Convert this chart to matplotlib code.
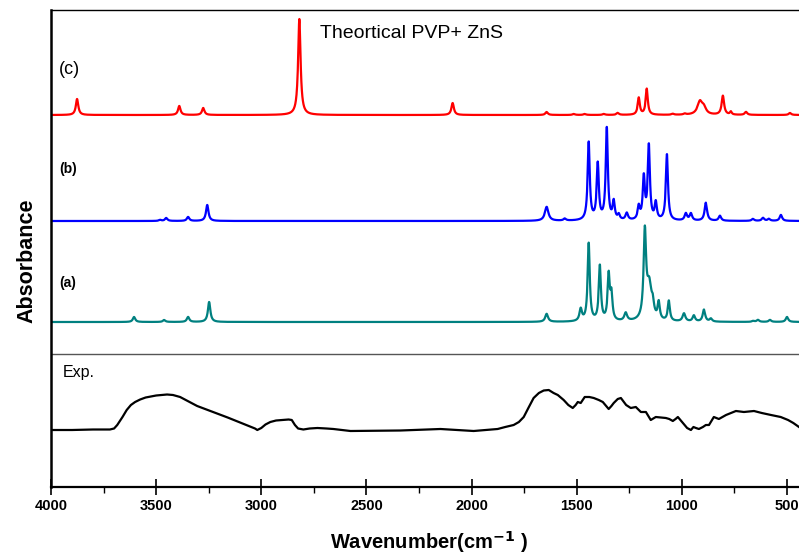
import numpy as np
import matplotlib.pyplot as plt

plt.rcParams['font.family'] = ['Liberation Sans', 'DejaVu Sans']

# theoretical band positions (cm-1) and intensities
c_pos = [3876, 3390, 3276, 2819, 2090, 1643, 1514, 1462, 1371, 1305, 1205, 1167,
         1043, 986, 914, 895, 805, 767, 695, 486]
c_int = [16, 9, 7, 96, 12, 3, 1, 1, 1, 2, 17, 26, 1, 1, 13, 6, 19, 3, 3, 2]
c_wid = [7, 7, 7, 7, 7, 7, 7, 7, 7, 7, 6, 6, 7, 7, 14, 12, 7, 5, 7, 7]

b_pos = [3481, 3452, 3348, 3257, 1643, 1557, 1443, 1400, 1357, 1324, 1300, 1262,
         1205, 1181, 1157, 1124, 1071, 981, 957, 886, 819, 662, 614, 586, 529]
b_int = [1, 3, 4, 16, 14, 2, 78, 56, 92, 18, 5, 7,
         13, 42, 74, 17, 66, 7, 7, 18, 5, 2, 3, 2, 6]
b_wid = [7, 7, 7, 7, 10, 7, 6, 6, 6, 6, 6, 7,
         6, 6, 6, 6, 6, 7, 7, 7, 7, 7, 7, 7, 7]

a_pos = [3605, 3462, 3348, 3248, 1643, 1481, 1443, 1390, 1348, 1335, 1267, 1176,
         1155, 1138, 1110, 1062, 990, 943, 895, 862, 660, 638, 581, 500]
a_int = [5, 2, 5, 20, 8, 12, 78, 55, 45, 25, 8, 85,
         35, 10, 17, 20, 8, 6, 12, 3, 1, 2, 2, 5]
a_wid = [7, 7, 7, 7, 8, 7, 6, 6, 6, 6, 8, 7,
         14, 6, 6, 6, 8, 7, 7, 7, 7, 7, 7, 7]

# experimental spectrum
exp_wn = [4000, 3900, 3800, 3720, 3700, 3685, 3660, 3640, 3620, 3600, 3576, 3550,
          3500, 3448, 3420, 3386, 3350, 3305, 3160, 3030, 3019, 3000, 2980, 2957,
          2930, 2900, 2870, 2855, 2840, 2825, 2800, 2770, 2733, 2690, 2657, 2576,
          2338, 2148, 1990, 1876, 1840, 1800, 1775, 1752, 1730, 1705, 1680, 1657,
          1633, 1610, 1590, 1562, 1540, 1519, 1505, 1495, 1481, 1462, 1440, 1419,
          1395, 1376, 1360, 1348, 1335, 1324, 1305, 1290, 1265, 1243, 1219, 1195,
          1171, 1148, 1124, 1100, 1076, 1060, 1043, 1030, 1019, 995, 975, 957,
          945, 933, 919, 900, 886, 871, 848, 824, 790, 743, 705, 657, 620, 576,
          530, 495, 470, 443]
exp_abs = [0, 0, 0.5, 0.5, 1.5, 5, 13, 20, 25, 28, 30.5, 32.5,
           34.5, 35.5, 35, 33, 29, 24, 12.5, 1.5, 0, 2, 5.5, 8,
           9.5, 10, 10.5, 10, 5, 1.5, 0.5, 1.5, 2, 1.5, 1, -1,
           -0.5, 1, -1, 1, 3, 5, 8, 13, 22, 32, 37, 39.5,
           40, 37, 35, 30, 25, 22, 25, 28, 27, 33, 33, 32,
           30, 28, 24, 21, 24, 27, 31, 32, 25, 22, 23, 18,
           18, 10, 13, 12.5, 12, 11, 9, 11, 13, 7, 2, 0,
           3, 2, 1, 3, 5, 5, 13, 11, 15, 19, 18, 19, 17, 15,
           13, 10, 7, 3]


def broaden(x, pos, inten, wid):
    y = np.zeros_like(x)
    for p, h, g in zip(pos, inten, wid):
        y += h * g**2 / ((x - p)**2 + g**2)
    return y


x = np.linspace(443, 4000, 6000)

fig = plt.figure(figsize=(7.99, 5.57), dpi=100)
ax = fig.add_axes([51/799, 1 - 487/557, 1 - 51/799, 477/557])

ax.plot(x, 372 + broaden(x, c_pos, c_int, c_wid), color='#ff0000', lw=1.6)
ax.plot(x, 266 + broaden(x, b_pos, b_int, b_wid), color='#0000ff', lw=1.6)
ax.plot(x, 165 + broaden(x, a_pos, a_int, a_wid), color='#008080', lw=1.6)
ax.plot(exp_wn, 57 + np.array(exp_abs), color='black', lw=1.6,
        solid_joinstyle='round')
ax.axhline(133, color='#555555', lw=1.0)

ax.set_xlim(4000, 443)
ax.set_ylim(0, 477)
ax.set_yticks([])
ax.set_xticks([4000, 3500, 3000, 2500, 2000, 1500, 1000, 500])
ax.set_xticks(np.arange(3750, 443, -500), minor=True)
ax.tick_params(axis='x', which='major', direction='inout', length=11, width=1.2,
               labelsize=10.5, pad=3)
ax.tick_params(axis='x', which='minor', direction='out', length=4, width=1)
for lab in ax.get_xticklabels():
    lab.set_fontweight('bold')

ax.spines['right'].set_visible(False)
ax.spines['left'].set_linewidth(1.8)
ax.spines['bottom'].set_linewidth(1.6)
ax.spines['top'].set_linewidth(1.0)

fig.text(320/799, 1 - 34/557, 'Theortical PVP+ ZnS', fontsize=14, va='center')
fig.text(59/799, 1 - 70/557, '(c)', fontsize=13, va='center')
fig.text(59/799, 1 - 169/557, '(b)', fontsize=10, fontweight='bold', va='center')
fig.text(59/799, 1 - 283/557, '(a)', fontsize=10, fontweight='bold', va='center')
fig.text(63/799, 1 - 372/557, 'Exp.', fontsize=11.5, va='center')

fig.text(429/799, 1 - 542/557, r'Wavenumber(cm$^{\mathbf{-1}}$ )', fontsize=14.5,
         fontweight='bold', ha='center', va='center')
fig.text(27/799, 1 - 261/557, 'Absorbance', fontsize=15.5, fontweight='bold',
         rotation=90, ha='center', va='center')

fig.savefig('out.png', dpi=100)
